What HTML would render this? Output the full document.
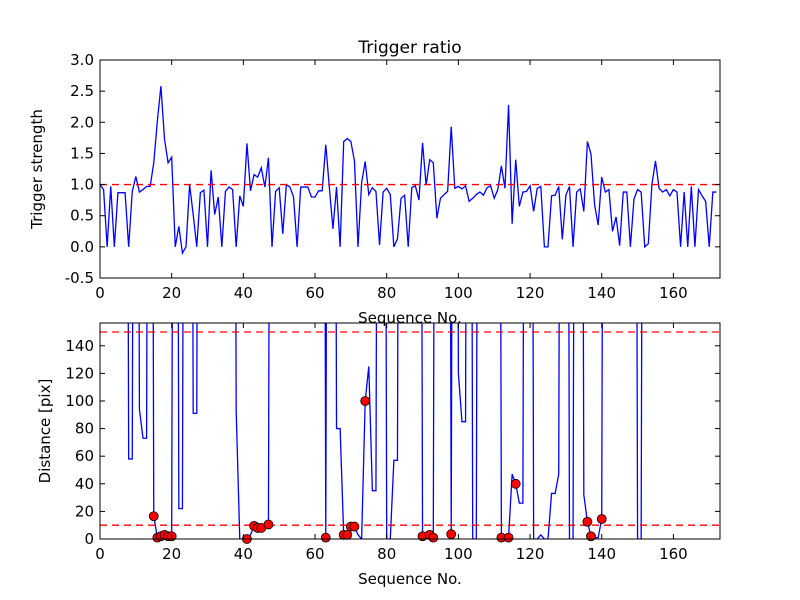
<!DOCTYPE html>
<html><head><meta charset="utf-8"><style>
body{margin:0;background:#fff;}
svg{display:block;font-family:"DejaVu Sans","Liberation Sans",sans-serif;}
</style></head><body>
<svg id="chart" width="800" height="600" viewBox="0 0 800 600">
<rect width="800" height="600" fill="#fff"/>
<text x="410" y="53" font-size="17" text-anchor="middle">Trigger ratio</text>
</svg>
<script>
const strength = [1.0,0.92,0,0.97,0,0.87,0.87,0.87,0,0.89,1.13,0.88,0.92,0.97,0.97,1.35,2.02,2.58,1.73,1.35,1.44,0,0.33,-0.1,0,1.0,0.52,0,0.87,0.91,0,1.23,0.52,0.8,0,0.89,0.96,0.92,0,0.82,0.65,1.66,0.9,1.16,1.12,1.27,0.96,1.43,0,0.89,0.95,0.21,1.0,0.96,0.8,0,0.96,0.96,0.96,0.8,0.8,0.9,0.9,1.64,0.95,0.29,0.96,0,1.69,1.74,1.69,1.38,0,1.03,1.37,0.84,0.95,0.89,0.03,0.88,0.94,0.84,0,0.13,0.78,0.83,0,0.95,0.98,0.75,1.67,0.99,1.4,1.35,0.46,0.78,0.84,0.89,1.93,0.94,0.97,0.93,0.98,0.73,0.78,0.84,0.88,0.83,0.95,0.98,0.78,0.92,1.3,0.94,2.28,0.37,1.4,0.65,0.88,0.89,0.98,0.57,0.94,0.97,0,0,0.82,0.83,0.97,0.12,0.83,0.97,0,0.88,0.93,0.57,1.69,1.49,0.68,0.35,1.12,0.88,0.92,0.25,0.48,0.02,0.88,0.88,0,0.77,0.92,0.88,0,0.05,1.0,1.38,0.94,0.88,0.92,0.82,0.92,0.88,0,0.88,0,0.97,0,0.92,0.82,0.73,0,0.88,0.88];
const B = 999;
const distance = [B,B,B,B,B,B,B,B,58,58,B,94,73,73,B,16.5,1,2,3,2,2,B,22,22,B,B,91,91,B,B,B,B,B,B,B,B,B,B,93,0,0,0,3,9.5,8,8,9,10.5,B,B,B,B,B,B,B,B,B,B,B,B,B,B,B,1,B,B,80,80,3,3,9,9,3,0,100,125,35,35,B,B,0,0,57,57,B,B,B,B,B,B,2,0,3,1,B,B,B,B,3.5,B,120,85,85,B,0,0,B,B,B,B,B,B,1,0,1,47,40,26,26,B,B,0,0,3,0,0,33,33,47,B,B,0,0,B,B,32,12.5,2,1,1,14.5,B,B,B,B,B,B,B,B,B,0,0,B,B,B,B,B,B,B,B,B,B,B,B,B,B,B,B,B,B,B,B,B];
const markerIdx = [15,16,17,18,19,20,41,43,44,45,47,63,68,69,70,71,74,90,92,93,98,112,114,116,136,137,140];
const xTicks = [0,20,40,60,80,100,120,140,160];
const topYTicks = [-0.5,0.0,0.5,1.0,1.5,2.0,2.5,3.0];
const botYTicks = [0,20,40,60,80,100,120,140];
const topRef = [1.0];
const botRef = [10,150];

const NS = "http://www.w3.org/2000/svg";
const svgEl = document.getElementById('chart');
function mk(tag, attrs, parent){const e=document.createElementNS(NS,tag);for(const k in attrs)e.setAttribute(k,attrs[k]);(parent||svgEl).appendChild(e);return e;}

function axes(cfg){
  const {L,R,T,Bt,xmin,xmax,ymin,ymax,name} = cfg;
  const sx = v => L + (v-xmin)/(xmax-xmin)*(R-L);
  const sy = v => Bt - (v-ymin)/(ymax-ymin)*(Bt-T);
  const g = mk('g',{});
  
  
  const cid = name+'-clip';
  const cp = mk('clipPath',{id:cid},g);
  mk('rect',{x:L,y:T,width:R-L,height:Bt-T},cp);
  return Object.assign({sx:sx,sy:sy,g:g,cid:cid},cfg);
}
function frame(a, yTicks, yFmt, ylabel, ylx){
  const {L,R,T,Bt,sx,sy,g,name}=a;
  xTicks.forEach(t=>{
    const x=sx(t);
    mk('line',{x1:x,y1:Bt,x2:x,y2:Bt-5,stroke:'#000','stroke-width':1},g);
    mk('line',{x1:x,y1:T,x2:x,y2:T+5,stroke:'#000','stroke-width':1},g);
    const tx=mk('text',{x:x,y:Bt+20,'font-size':15,'text-anchor':'middle'},g);
    tx.textContent=t;
    
    
  });
  yTicks.forEach(t=>{
    const y=sy(t);
    mk('line',{x1:L,y1:y,x2:L+5,y2:y,stroke:'#000','stroke-width':1},g);
    mk('line',{x1:R,y1:y,x2:R-5,y2:y,stroke:'#000','stroke-width':1},g);
    const tx=mk('text',{x:L-6,y:y+5,'font-size':15,'text-anchor':'end'},g);
    tx.textContent=yFmt(t);
    
    
  });
  const r=mk('rect',{x:L,y:T,width:R-L,height:Bt-T,fill:'none',stroke:'#000','stroke-width':1},g);
  
  
  const xl=mk('text',{x:(L+R)/2,y:Bt+45,'font-size':15,'text-anchor':'middle'},g);
  xl.textContent='Sequence No.';
  
  
  const yl=mk('text',{x:ylx,y:(T+Bt)/2,'font-size':15,'text-anchor':'middle',transform:'rotate(-90 '+ylx+' '+((T+Bt)/2)+')'},g);
  yl.textContent=ylabel;
  
  
}
function series(a, vals){
  const pts = vals.map((v,i)=>a.sx(i).toFixed(2)+','+a.sy(v).toFixed(2)).join(' ');
  const p=mk('polyline',{points:pts,fill:'none',stroke:'#0000ff','stroke-width':1.3,'clip-path':'url(#'+a.cid+')'},a.g);
  
  
}
function refs(a, vals){
  vals.forEach(v=>{
    const l=mk('line',{x1:a.L,x2:a.R,y1:a.sy(v),y2:a.sy(v),stroke:'#ff0000','stroke-width':1.3,'stroke-dasharray':'7,5'},a.g);
    
    
  });
}

const topAx = axes({L:100,R:720,T:60,Bt:278,xmin:0,xmax:173,ymin:-0.5,ymax:3.0,name:'top'});
series(topAx, strength);
refs(topAx, topRef);
frame(topAx, topYTicks, t=>t.toFixed(1), 'Trigger strength', 42);

const botAx = axes({L:100,R:720,T:323,Bt:539,xmin:0,xmax:173,ymin:0,ymax:156.5,name:'bottom'});
series(botAx, distance);
refs(botAx, botRef);
markerIdx.forEach(i=>{
  const c=mk('circle',{cx:botAx.sx(i),cy:botAx.sy(distance[i]),r:4.5,fill:'#ff0000',stroke:'#000','stroke-width':0.8},botAx.g);
  
  
});
frame(botAx, botYTicks, t=>String(t), 'Distance [pix]', 50);
</script>
</body></html>
